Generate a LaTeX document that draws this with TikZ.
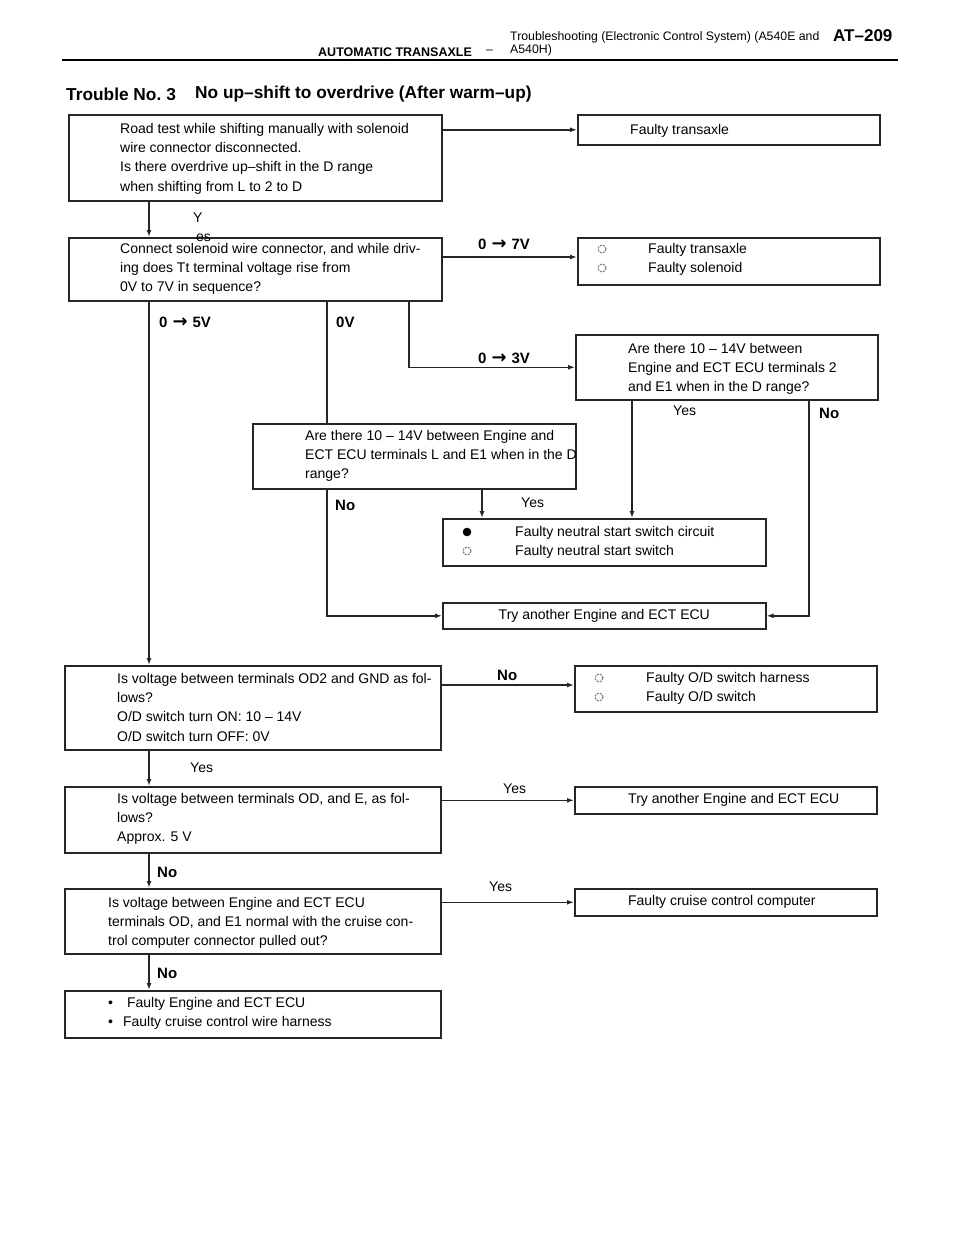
\documentclass[tikz,border=0pt]{standalone}
\usepackage{fontspec}
\setmainfont{Liberation Sans}
\newfontfamily\arrowfont{DejaVu Sans}
\usetikzlibrary{arrows.meta}

\newcommand{\vto}{\hspace{5pt}{\arrowfont\fontsize{18}{18}\selectfont →}\hspace{5pt}}

\tikzset{
    box/.style={draw=black!85, line width=1.6pt, anchor=north west, inner sep=0pt},
    txt/.style={anchor=north west, align=left, inner sep=0pt, font=\fontsize{14}{19.3}\selectfont},
    lbl/.style={anchor=west, inner sep=0pt, font=\fontsize{14}{16}\selectfont},
    volt/.style={anchor=west, inner sep=0pt, font=\bfseries\fontsize{15}{17}\selectfont},
    arr/.style={draw=black!85, line width=1.5pt, -{Latex[length=7pt,width=5pt]}},
    ln/.style={draw=black!85, line width=1.5pt},
    hollow/.style={draw=black!50, line width=1.2pt, dash pattern=on 2pt off 1.2pt},
}

\begin{document}
\begin{tikzpicture}[x=1pt,y=-1pt]
    \useasboundingbox (0,0) rectangle (960,1242);

    % header
    \node[anchor=west, inner sep=0pt, font=\bfseries\fontsize{12.5}{14}\selectfont] (sect) at (318,52) {AUTOMATIC TRANSAXLE};
    \node[anchor=west, inner sep=0pt, font=\fontsize{12}{14}\selectfont] (dash) at (486,52) {–};
    \node[anchor=north west, align=left, inner sep=0pt, font=\fontsize{12.3}{13.5}\selectfont] (head) at (510,31) {Troubleshooting (Electronic Control System) (A540E and\\A540H)};
    \node[anchor=west, inner sep=0pt, font=\bfseries\fontsize{17}{19}\selectfont] (page) at (833,36) {AT–209};
    \draw[line width=2pt] (62,60) -- (898,60);
    \node[anchor=west, inner sep=0pt, font=\bfseries\fontsize{17.3}{19}\selectfont] (trb) at (66,94) {Trouble No.\hspace{5pt}3};
    \node[anchor=west, inner sep=0pt, font=\bfseries\fontsize{17.3}{19}\selectfont] (ttl) at (195,94) {No up–shift to overdrive (After warm–up)};

    % boxes
    \node[box, minimum width=373pt, minimum height=86pt] (road) at (68,114) {};
    \node[box, minimum width=302pt, minimum height=30pt] (ft1) at (577,114) {};
    \node[box, minimum width=373pt, minimum height=63pt] (tt) at (68,237) {};
    \node[box, minimum width=302pt, minimum height=47pt] (fts) at (577,237) {};
    \node[box, minimum width=302pt, minimum height=65pt] (eq) at (575,334) {};
    \node[box, minimum width=323pt, minimum height=65pt] (lq) at (252,423) {};
    \node[box, minimum width=323pt, minimum height=47pt] (nss) at (442,518) {};
    \node[box, minimum width=323pt, minimum height=26pt] (try1) at (442,602) {};
    \node[box, minimum width=376pt, minimum height=84pt] (od2) at (64,665) {};
    \node[box, minimum width=302pt, minimum height=46pt] (odh) at (574,665) {};
    \node[box, minimum width=376pt, minimum height=66pt] (od) at (64,786) {};
    \node[box, minimum width=302pt, minimum height=27pt] (try2) at (574,786) {};
    \node[box, minimum width=376pt, minimum height=65pt] (cr) at (64,888) {};
    \node[box, minimum width=302pt, minimum height=27pt] (comp) at (574,888) {};
    \node[box, minimum width=376pt, minimum height=47pt] (fin) at (64,990) {};

    % texts
    \node[txt] (roadt) at (120,123) {Road test while shifting manually with solenoid\\wire connector disconnected.\\Is there overdrive up–shift in the D range\\when shifting from L to 2 to D};
    \node[txt] (ft1t) at (630,124) {Faulty transaxle};
    \node[txt] (ttt) at (120,243) {Connect solenoid wire connector, and while driv-\\ing does Tt terminal voltage rise from\\0V to 7V in sequence?};
    \node[txt] (ftst) at (648,243) {Faulty transaxle\\Faulty solenoid};
    \node[txt] (eqt) at (628,343) {Are there 10 – 14V between\\Engine and ECT ECU terminals 2\\and E1 when in the D range?};
    \node[txt] (lqt) at (305,430) {Are there 10 – 14V between Engine and\\ECT ECU terminals L and E1 when in the D\\range?};
    \node[txt] (nsst) at (515,526) {Faulty neutral start switch circuit\\Faulty neutral start switch};
    \node[txt, anchor=center] (try1t) at (try1.center) {Try another Engine and ECT ECU};
    \node[txt] (od2t) at (117,673) {Is voltage between terminals OD2 and GND as fol-\\lows?\\O/D switch turn ON: 10 – 14V\\O/D switch turn OFF: 0V};
    \node[txt] (odht) at (646,672) {Faulty O/D switch harness\\Faulty O/D switch};
    \node[txt] (odt) at (117,793) {Is voltage between terminals OD, and E, as fol-\\lows?\\Approx. 5 V};
    \node[txt, anchor=center] (try2t) at ([xshift=8pt]try2.center) {Try another Engine and ECT ECU};
    \node[txt] (crt) at (108,897) {Is voltage between Engine and ECT ECU\\terminals OD, and E1 normal with the cruise con-\\trol computer connector pulled out?};
    \node[txt, anchor=center] (compt) at ([xshift=-4pt]comp.center) {Faulty cruise control computer};
    \node[txt] (fint) at (108,997) {•\hspace{14pt}Faulty Engine and ECT ECU\\•\hspace{10pt}Faulty cruise control wire harness};

    % list marks
    \draw[hollow] (602,249) circle (4pt);
    \draw[hollow] (602,268) circle (4pt);
    \fill[black] (467,532) circle (4.3pt);
    \draw[hollow] (467,551) circle (4pt);
    \draw[hollow] (599,678) circle (4pt);
    \draw[hollow] (599,697) circle (4pt);

    % columns
    \coordinate (trunk) at (149,0);
    \coordinate (c0v) at (327,0);
    \coordinate (c3v) at (409,0);
    \coordinate (cyes) at (632,0);
    \coordinate (cno) at (809,0);
    \coordinate (cyes2) at (482,0);
    \coordinate (y7v) at (0,257);
    \coordinate (yno) at (0,685);

    % connectors
    \draw[arr] (road.east |- ft1.west) -- (ft1.west);
    \draw[arr] (trunk |- road.south) -- (trunk |- tt.north);
    \node[lbl] (yes0a) at (193,218) {Y};
    \node[lbl] (yes0b) at (196,238) {es};
    \draw[arr] (tt.east |- y7v) -- (fts.west |- y7v);
    \node[volt] (v7) at (478,244) {0\vto 7V};
    \draw[arr] (trunk |- tt.south) -- (trunk |- od2.north);
    \node[volt] (v5) at (159,322) {0\vto 5V};
    \draw[ln] (c0v |- tt.south) -- (c0v |- lq.north);
    \node[volt] (v0) at (336,322) {0V};
    \draw[arr] (c3v |- tt.south) -- (c3v |- eq.west) -- (eq.west);
    \node[volt] (v3) at (478,358) {0\vto 3V};
    \draw[arr] (cyes |- eq.south) -- (cyes |- nss.north);
    \node[lbl] (yes1) at (673,411) {Yes};
    \draw[arr] (cno |- eq.south) -- (cno |- try1.east) -- (try1.east);
    \node[volt] (no1) at (819,413) {No};
    \draw[arr] (c0v |- lq.south) -- (c0v |- try1.west) -- (try1.west);
    \node[volt] (no2) at (335,505) {No};
    \draw[arr] (cyes2 |- lq.south) -- (cyes2 |- nss.north);
    \node[lbl] (yes2) at (521,503) {Yes};
    \draw[arr] (od2.east |- yno) -- (odh.west |- yno);
    \node[volt] (no3) at (497,675) {No};
    \draw[arr] (trunk |- od2.south) -- (trunk |- od.north);
    \node[lbl] (yes3) at (190,768) {Yes};
    \draw[arr] (od.east |- try2.west) -- (try2.west);
    \node[lbl] (yes4) at (503,789) {Yes};
    \draw[arr] (trunk |- od.south) -- (trunk |- cr.north);
    \node[volt] (no4) at (157,872) {No};
    \draw[arr] (cr.east |- comp.west) -- (comp.west);
    \node[lbl] (yes5) at (489,887) {Yes};
    \draw[arr] (trunk |- cr.south) -- (trunk |- fin.north);
    \node[volt] (no5) at (157,973) {No};
\end{tikzpicture}
\end{document}
